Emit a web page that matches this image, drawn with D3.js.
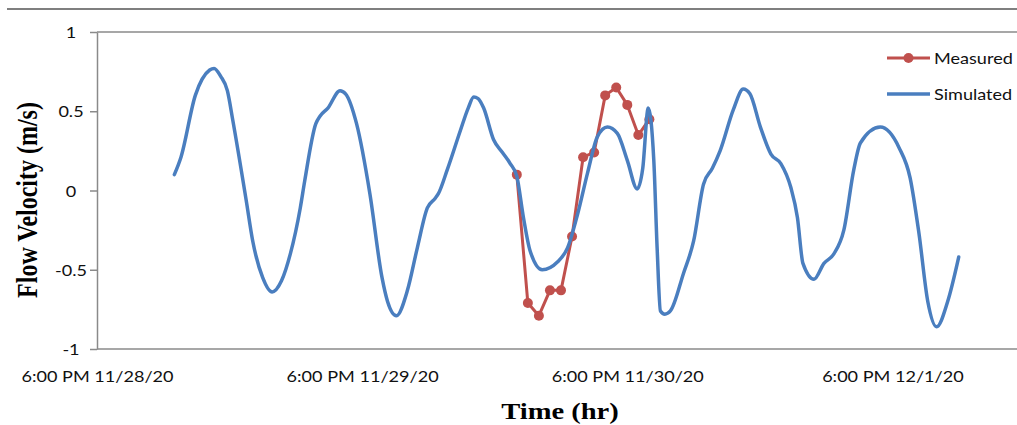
<!DOCTYPE html>
<html>
<head>
<meta charset="utf-8">
<script src="https://cdn.jsdelivr.net/npm/d3@7"></script>
<style>
  body { margin: 0; background: #fff; }
  svg { display: block; }
</style>
</head>
<body>
<div id="chart"></div>
<script>
const WIDTH = 1017;
const HEIGHT = 425;
const SX = 1.19;       // the source picture is stretched sideways, text too
const SX_LABEL = 1.13; // Lato runs a little wider than the original label font

// hours after 6:00 PM 11/28/20
const X_TICK_HOURS = [0, 24, 48, 72];
const X_TICK_LABELS = ['6:00 PM 11/28/20', '6:00 PM 11/29/20', '6:00 PM 11/30/20', '6:00 PM 12/1/20'];
const Y_TICKS = [1, 0.5, 0, -0.5, -1];
const Y_TICK_LABELS = ['1', '0.5', '0', '-0.5', '-1'];

const MEASURED_HOURS = [38, 39, 40, 41, 42, 43, 44, 45, 46, 47, 48, 49, 50];
const MEASURED_VALUES = [0.10, -0.71, -0.79, -0.63, -0.63, -0.29, 0.21, 0.24, 0.60, 0.65, 0.54, 0.35, 0.45];

const SIMULATED_HOURS = [
  7.0, 7.6, 8.9, 10.2, 10.6, 11.2, 11.8, 12.3, 13.5, 14.1, 15.0, 15.85, 16.7, 17.5, 18.4, 18.8,
  19.8, 20.2, 20.9, 22.0, 22.5, 23.5, 24.7, 25.8, 26.3, 27.1, 28.1, 29.0, 29.9, 30.6, 30.9,
  31.7, 32.9, 33.6, 34.1, 34.5, 35.0, 35.9, 36.7, 37.4, 38.0, 38.6, 39.2, 40.3, 41.7, 42.6,
  43.5, 44.4, 45.3, 46.2, 47.1, 48.0, 48.9, 49.4, 49.9, 50.4, 50.7, 51.0, 51.4, 51.9, 53.1,
  54.0, 54.9, 55.7, 56.4, 57.6, 58.5, 59.1, 60.05, 61.0, 61.9, 62.8, 63.4, 63.9, 64.9, 65.8,
  66.7, 67.6, 68.5, 69.1, 70.9, 72.6, 73.6, 74.4, 75.2, 76.0, 77.0, 78.0
];
const SIMULATED_VALUES = [
  0.10, 0.21, 0.60, 0.76, 0.77, 0.72, 0.63, 0.44, -0.06, -0.32, -0.55, -0.64, -0.57, -0.40, -0.11, 0.06,
  0.42, 0.47, 0.52, 0.63, 0.61, 0.42, -0.02, -0.55, -0.70, -0.79, -0.63, -0.36, -0.11, -0.05, -0.02,
  0.13, 0.38, 0.52, 0.59, 0.58, 0.52, 0.32, 0.24, 0.17, 0.09, -0.17, -0.38, -0.50, -0.45, -0.36,
  -0.15, 0.11, 0.34, 0.40, 0.36, 0.19, 0.01, 0.14, 0.52, 0.19, -0.36, -0.76, -0.78, -0.76, -0.52,
  -0.32, 0.04, 0.14, 0.25, 0.51, 0.64, 0.61, 0.40, 0.23, 0.17, 0.02, -0.17, -0.46, -0.56, -0.46,
  -0.40, -0.25, 0.13, 0.30, 0.40, 0.27, 0.08, -0.27, -0.70, -0.86, -0.70, -0.42
];

const RED = '#C0504D';
const BLUE = '#4A7EBF';
const AXIS_GREY = '#8a8a8a';
const LABEL_FONT = 'Lato, "Open Sans", sans-serif';
const TITLE_FONT = '"Liberation Serif", "DejaVu Serif", serif';

const svg = d3.select('#chart')
  .append('svg')
  .attr('width', WIDTH)
  .attr('height', HEIGHT);

const xScale = d3.scaleLinear().domain([0, 84]).range([97, 1025]);
const yScale = d3.scaleLinear().domain([-1, 1]).range([349, 32]);

// outer chart border (only its top edge is inside the crop)
svg.append('line')
  .attr('x1', 7).attr('x2', WIDTH)
  .attr('y1', 9).attr('y2', 9)
  .attr('stroke', '#7f7f7f').attr('stroke-width', 2);

// top edge of plot area
svg.append('line')
  .attr('x1', xScale(0)).attr('x2', WIDTH)
  .attr('y1', yScale(1)).attr('y2', yScale(1))
  .attr('stroke', AXIS_GREY).attr('stroke-width', 1.5);

// y axis
const yAxis = d3.axisLeft(yScale)
  .tickValues(Y_TICKS)
  .tickFormat((d, i) => Y_TICK_LABELS[i])
  .tickSizeInner(7)
  .tickSizeOuter(0)
  .tickPadding(0);
const yG = svg.append('g')
  .attr('transform', `translate(${xScale(0)},0)`)
  .call(yAxis);
yG.select('.domain').attr('stroke', AXIS_GREY).attr('stroke-width', 1.5);
yG.selectAll('.tick line').attr('stroke', AXIS_GREY).attr('stroke-width', 1.5);
yG.selectAll('.tick text')
  .attr('text-anchor', 'middle')
  .attr('x', -26 / SX_LABEL)
  .attr('dy', '0.35em')
  .attr('transform', `scale(${SX_LABEL},1)`)
  .style('font-family', LABEL_FONT)
  .style('font-size', '16px')
  .attr('fill', '#111');

// x axis
const xAxis = d3.axisBottom(xScale)
  .tickValues(X_TICK_HOURS)
  .tickFormat((d, i) => X_TICK_LABELS[i])
  .tickSize(0)
  .tickPadding(0);
const xG = svg.append('g')
  .attr('transform', `translate(0,${yScale(-1)})`)
  .call(xAxis);
xG.select('.domain')
  .attr('stroke', AXIS_GREY).attr('stroke-width', 1.5)
  .attr('d', `M${xScale(0)},0H${WIDTH}`);
xG.selectAll('.tick text')
  .attr('y', 33)
  .attr('dy', 0)
  .attr('transform', `scale(${SX_LABEL},1)`)
  .style('font-family', LABEL_FONT)
  .style('font-size', '16px')
  .attr('fill', '#111');

// axis titles
svg.append('text')
  .attr('transform', `translate(560,419) scale(${SX},1)`)
  .attr('text-anchor', 'middle')
  .style('font-family', TITLE_FONT)
  .style('font-weight', 'bold')
  .style('font-size', '24px')
  .text('Time (hr)');

svg.append('text')
  .attr('transform', `translate(37,200) scale(${SX},1) rotate(-90)`)
  .attr('text-anchor', 'middle')
  .style('font-family', TITLE_FONT)
  .style('font-weight', 'bold')
  .style('font-size', '24px')
  .text('Flow Velocity (m/s)');

const measured = MEASURED_HOURS.map((h, i) => ({ h, v: MEASURED_VALUES[i] }));
const simulated = SIMULATED_HOURS.map((h, i) => ({ h, v: SIMULATED_VALUES[i] }));

// measured series: straight segments with round markers
svg.append('path')
  .datum(measured)
  .attr('fill', 'none')
  .attr('stroke', RED)
  .attr('stroke-width', 3)
  .attr('stroke-linejoin', 'round')
  .attr('d', d3.line().x(d => xScale(d.h)).y(d => yScale(d.v)));

svg.selectAll('circle.measured')
  .data(measured)
  .enter()
  .append('circle')
  .attr('class', 'measured')
  .attr('cx', d => xScale(d.h))
  .attr('cy', d => yScale(d.v))
  .attr('r', 5)
  .attr('fill', RED);

// simulated series, smoothed like the spreadsheet line
svg.append('path')
  .datum(simulated)
  .attr('fill', 'none')
  .attr('stroke', BLUE)
  .attr('stroke-width', 3.5)
  .attr('stroke-linejoin', 'round')
  .attr('stroke-linecap', 'round')
  .attr('d', d3.line().curve(d3.curveMonotoneX).x(d => xScale(d.h)).y(d => yScale(d.v)));

// legend
const legendItems = [
  { name: 'Measured', color: RED, marker: true, y: 58 },
  { name: 'Simulated', color: BLUE, marker: false, y: 94 }
];
const legend = svg.append('g').attr('class', 'legend');
legendItems.forEach(item => {
  legend.append('line')
    .attr('x1', 887).attr('x2', 930)
    .attr('y1', item.y).attr('y2', item.y)
    .attr('stroke', item.color)
    .attr('stroke-width', item.marker ? 3 : 3.5);
  if (item.marker) {
    legend.append('circle')
      .attr('cx', 908.5).attr('cy', item.y).attr('r', 5)
      .attr('fill', item.color);
  }
  legend.append('text')
    .attr('transform', `translate(934,${item.y}) scale(${SX_LABEL},1)`)
    .attr('dy', '0.35em')
    .style('font-family', LABEL_FONT)
    .style('font-size', '16px')
    .attr('fill', '#111')
    .text(item.name);
});
</script>
</body>
</html>
